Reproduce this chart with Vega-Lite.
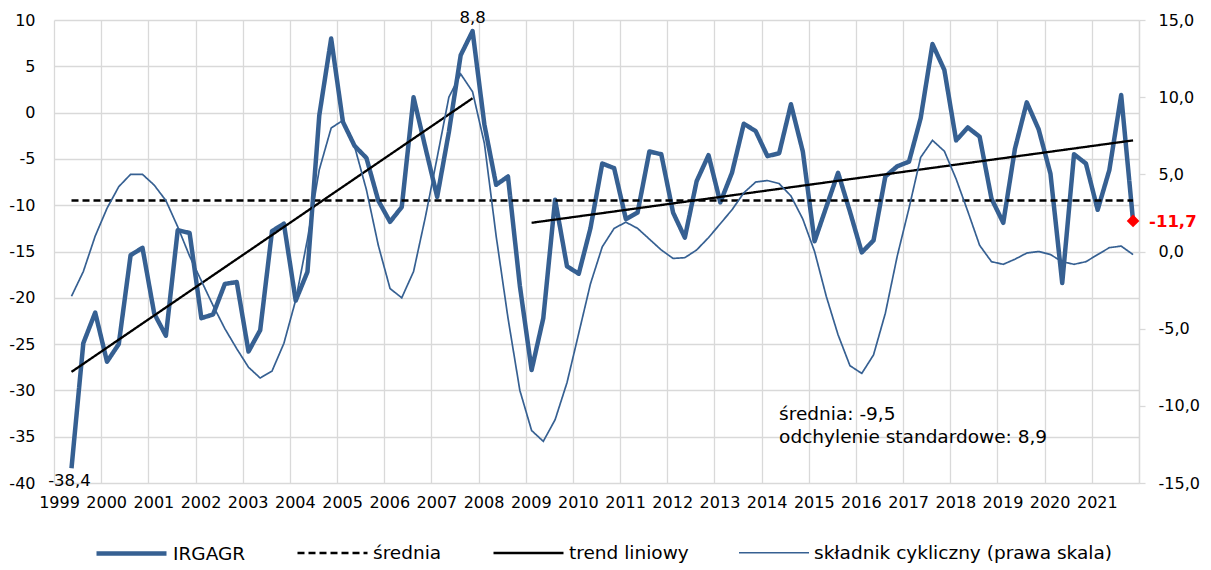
{
"$schema":"https://vega.github.io/schema/vega-lite/v6.json",
"width":1085,"height":463,
"autosize":{"type":"none"},
"padding":{"left":54,"top":20,"right":72,"bottom":87},
"background":"white",
"config":{"view":{"stroke":null},"font":"DejaVu Sans","axis":{"labelFont":"DejaVu Sans","labelColor":"#000000","labelFontSize":16,"gridColor":"#d9d9d9","gridWidth":1.3,"title":null},"text":{"font":"DejaVu Sans"}},
"datasets":{
"s":[
{"d":"1999-04-01","s":"IRGAGR","v":-38.4},{"d":"1999-07-01","s":"IRGAGR","v":-24.9},{"d":"1999-10-01","s":"IRGAGR","v":-21.6},
{"d":"2000-01-01","s":"IRGAGR","v":-26.9},{"d":"2000-04-01","s":"IRGAGR","v":-25.0},{"d":"2000-07-01","s":"IRGAGR","v":-15.4},{"d":"2000-10-01","s":"IRGAGR","v":-14.6},
{"d":"2001-01-01","s":"IRGAGR","v":-21.7},{"d":"2001-04-01","s":"IRGAGR","v":-24.1},{"d":"2001-07-01","s":"IRGAGR","v":-12.7},{"d":"2001-10-01","s":"IRGAGR","v":-13.0},
{"d":"2002-01-01","s":"IRGAGR","v":-22.2},{"d":"2002-04-01","s":"IRGAGR","v":-21.8},{"d":"2002-07-01","s":"IRGAGR","v":-18.5},{"d":"2002-10-01","s":"IRGAGR","v":-18.3},
{"d":"2003-01-01","s":"IRGAGR","v":-25.8},{"d":"2003-04-01","s":"IRGAGR","v":-23.5},{"d":"2003-07-01","s":"IRGAGR","v":-12.8},{"d":"2003-10-01","s":"IRGAGR","v":-12.0},
{"d":"2004-01-01","s":"IRGAGR","v":-20.3},{"d":"2004-04-01","s":"IRGAGR","v":-17.2},{"d":"2004-07-01","s":"IRGAGR","v":-0.3},{"d":"2004-10-01","s":"IRGAGR","v":8.0},
{"d":"2005-01-01","s":"IRGAGR","v":-1.0},{"d":"2005-04-01","s":"IRGAGR","v":-3.6},{"d":"2005-07-01","s":"IRGAGR","v":-4.9},{"d":"2005-10-01","s":"IRGAGR","v":-9.5},
{"d":"2006-01-01","s":"IRGAGR","v":-11.8},{"d":"2006-04-01","s":"IRGAGR","v":-10.2},{"d":"2006-07-01","s":"IRGAGR","v":1.65},{"d":"2006-10-01","s":"IRGAGR","v":-3.8},
{"d":"2007-01-01","s":"IRGAGR","v":-9.1},{"d":"2007-04-01","s":"IRGAGR","v":-2.1},{"d":"2007-07-01","s":"IRGAGR","v":6.2},{"d":"2007-10-01","s":"IRGAGR","v":8.8},
{"d":"2008-01-01","s":"IRGAGR","v":-1.3},{"d":"2008-04-01","s":"IRGAGR","v":-7.8},{"d":"2008-07-01","s":"IRGAGR","v":-6.9},{"d":"2008-10-01","s":"IRGAGR","v":-18.7},
{"d":"2009-01-01","s":"IRGAGR","v":-27.8},{"d":"2009-04-01","s":"IRGAGR","v":-22.2},{"d":"2009-07-01","s":"IRGAGR","v":-9.4},{"d":"2009-10-01","s":"IRGAGR","v":-16.6},
{"d":"2010-01-01","s":"IRGAGR","v":-17.4},{"d":"2010-04-01","s":"IRGAGR","v":-12.5},{"d":"2010-07-01","s":"IRGAGR","v":-5.5},{"d":"2010-10-01","s":"IRGAGR","v":-6.0},
{"d":"2011-01-01","s":"IRGAGR","v":-11.5},{"d":"2011-04-01","s":"IRGAGR","v":-10.8},{"d":"2011-07-01","s":"IRGAGR","v":-4.2},{"d":"2011-10-01","s":"IRGAGR","v":-4.5},
{"d":"2012-01-01","s":"IRGAGR","v":-10.8},{"d":"2012-04-01","s":"IRGAGR","v":-13.5},{"d":"2012-07-01","s":"IRGAGR","v":-7.4},{"d":"2012-10-01","s":"IRGAGR","v":-4.6},
{"d":"2013-01-01","s":"IRGAGR","v":-9.7},{"d":"2013-04-01","s":"IRGAGR","v":-6.5},{"d":"2013-07-01","s":"IRGAGR","v":-1.2},{"d":"2013-10-01","s":"IRGAGR","v":-2.0},
{"d":"2014-01-01","s":"IRGAGR","v":-4.7},{"d":"2014-04-01","s":"IRGAGR","v":-4.4},{"d":"2014-07-01","s":"IRGAGR","v":0.9},{"d":"2014-10-01","s":"IRGAGR","v":-4.2},
{"d":"2015-01-01","s":"IRGAGR","v":-13.9},{"d":"2015-04-01","s":"IRGAGR","v":-10.2},{"d":"2015-07-01","s":"IRGAGR","v":-6.5},{"d":"2015-10-01","s":"IRGAGR","v":-10.7},
{"d":"2016-01-01","s":"IRGAGR","v":-15.1},{"d":"2016-04-01","s":"IRGAGR","v":-13.8},{"d":"2016-07-01","s":"IRGAGR","v":-6.9},{"d":"2016-10-01","s":"IRGAGR","v":-5.8},
{"d":"2017-01-01","s":"IRGAGR","v":-5.3},{"d":"2017-04-01","s":"IRGAGR","v":-0.6},{"d":"2017-07-01","s":"IRGAGR","v":7.4},{"d":"2017-10-01","s":"IRGAGR","v":4.6},
{"d":"2018-01-01","s":"IRGAGR","v":-3.0},{"d":"2018-04-01","s":"IRGAGR","v":-1.6},{"d":"2018-07-01","s":"IRGAGR","v":-2.6},{"d":"2018-10-01","s":"IRGAGR","v":-9.3},
{"d":"2019-01-01","s":"IRGAGR","v":-11.9},{"d":"2019-04-01","s":"IRGAGR","v":-3.9},{"d":"2019-07-01","s":"IRGAGR","v":1.1},{"d":"2019-10-01","s":"IRGAGR","v":-1.8},
{"d":"2020-01-01","s":"IRGAGR","v":-6.6},{"d":"2020-04-01","s":"IRGAGR","v":-18.4},{"d":"2020-07-01","s":"IRGAGR","v":-4.5},{"d":"2020-10-01","s":"IRGAGR","v":-5.5},
{"d":"2021-01-01","s":"IRGAGR","v":-10.5},{"d":"2021-04-01","s":"IRGAGR","v":-6.2},{"d":"2021-07-01","s":"IRGAGR","v":1.9},{"d":"2021-10-01","s":"IRGAGR","v":-11.7},
{"d":"1999-04-01","s":"średnia","v":-9.5},{"d":"2021-10-01","s":"średnia","v":-9.5},
{"d":"1999-04-01","s":"trend liniowy","seg":"a","v":-28.0},{"d":"2007-10-01","s":"trend liniowy","seg":"a","v":1.55},
{"d":"2009-01-01","s":"trend liniowy","seg":"b","v":-11.9},{"d":"2021-10-01","s":"trend liniowy","seg":"b","v":-3.0},
{"d":"1999-04-01","s":"składnik cykliczny (prawa skala)","v":-2.9},{"d":"1999-07-01","s":"składnik cykliczny (prawa skala)","v":-1.3},{"d":"1999-10-01","s":"składnik cykliczny (prawa skala)","v":1.0},
{"d":"2000-01-01","s":"składnik cykliczny (prawa skala)","v":2.8},{"d":"2000-04-01","s":"składnik cykliczny (prawa skala)","v":4.2},{"d":"2000-07-01","s":"składnik cykliczny (prawa skala)","v":5.0},{"d":"2000-10-01","s":"składnik cykliczny (prawa skala)","v":5.0},
{"d":"2001-01-01","s":"składnik cykliczny (prawa skala)","v":4.3},{"d":"2001-04-01","s":"składnik cykliczny (prawa skala)","v":3.3},{"d":"2001-07-01","s":"składnik cykliczny (prawa skala)","v":1.6},{"d":"2001-10-01","s":"składnik cykliczny (prawa skala)","v":-0.3},
{"d":"2002-01-01","s":"składnik cykliczny (prawa skala)","v":-1.9},{"d":"2002-04-01","s":"składnik cykliczny (prawa skala)","v":-3.5},{"d":"2002-07-01","s":"składnik cykliczny (prawa skala)","v":-5.0},{"d":"2002-10-01","s":"składnik cykliczny (prawa skala)","v":-6.3},
{"d":"2003-01-01","s":"składnik cykliczny (prawa skala)","v":-7.5},{"d":"2003-04-01","s":"składnik cykliczny (prawa skala)","v":-8.2},{"d":"2003-07-01","s":"składnik cykliczny (prawa skala)","v":-7.75},{"d":"2003-10-01","s":"składnik cykliczny (prawa skala)","v":-5.95},
{"d":"2004-01-01","s":"składnik cykliczny (prawa skala)","v":-3.15},{"d":"2004-04-01","s":"składnik cykliczny (prawa skala)","v":0.8},{"d":"2004-07-01","s":"składnik cykliczny (prawa skala)","v":5.3},{"d":"2004-10-01","s":"składnik cykliczny (prawa skala)","v":8.0},
{"d":"2005-01-01","s":"składnik cykliczny (prawa skala)","v":8.5},{"d":"2005-04-01","s":"składnik cykliczny (prawa skala)","v":6.8},{"d":"2005-07-01","s":"składnik cykliczny (prawa skala)","v":4.0},{"d":"2005-10-01","s":"składnik cykliczny (prawa skala)","v":0.4},
{"d":"2006-01-01","s":"składnik cykliczny (prawa skala)","v":-2.4},{"d":"2006-04-01","s":"składnik cykliczny (prawa skala)","v":-3.0},{"d":"2006-07-01","s":"składnik cykliczny (prawa skala)","v":-1.3},{"d":"2006-10-01","s":"składnik cykliczny (prawa skala)","v":2.25},
{"d":"2007-01-01","s":"składnik cykliczny (prawa skala)","v":6.1},{"d":"2007-04-01","s":"składnik cykliczny (prawa skala)","v":10.0},{"d":"2007-07-01","s":"składnik cykliczny (prawa skala)","v":11.5},{"d":"2007-10-01","s":"składnik cykliczny (prawa skala)","v":10.35},
{"d":"2008-01-01","s":"składnik cykliczny (prawa skala)","v":7.0},{"d":"2008-04-01","s":"składnik cykliczny (prawa skala)","v":1.0},{"d":"2008-07-01","s":"składnik cykliczny (prawa skala)","v":-4.3},{"d":"2008-10-01","s":"składnik cykliczny (prawa skala)","v":-9.0},
{"d":"2009-01-01","s":"składnik cykliczny (prawa skala)","v":-11.6},{"d":"2009-04-01","s":"składnik cykliczny (prawa skala)","v":-12.3},{"d":"2009-07-01","s":"składnik cykliczny (prawa skala)","v":-10.9},{"d":"2009-10-01","s":"składnik cykliczny (prawa skala)","v":-8.5},
{"d":"2010-01-01","s":"składnik cykliczny (prawa skala)","v":-5.3},{"d":"2010-04-01","s":"składnik cykliczny (prawa skala)","v":-2.1},{"d":"2010-07-01","s":"składnik cykliczny (prawa skala)","v":0.3},{"d":"2010-10-01","s":"składnik cykliczny (prawa skala)","v":1.5},
{"d":"2011-01-01","s":"składnik cykliczny (prawa skala)","v":1.9},{"d":"2011-04-01","s":"składnik cykliczny (prawa skala)","v":1.5},{"d":"2011-07-01","s":"składnik cykliczny (prawa skala)","v":0.8},{"d":"2011-10-01","s":"składnik cykliczny (prawa skala)","v":0.1},
{"d":"2012-01-01","s":"składnik cykliczny (prawa skala)","v":-0.45},{"d":"2012-04-01","s":"składnik cykliczny (prawa skala)","v":-0.4},{"d":"2012-07-01","s":"składnik cykliczny (prawa skala)","v":0.1},{"d":"2012-10-01","s":"składnik cykliczny (prawa skala)","v":0.9},
{"d":"2013-01-01","s":"składnik cykliczny (prawa skala)","v":1.8},{"d":"2013-04-01","s":"składnik cykliczny (prawa skala)","v":2.7},{"d":"2013-07-01","s":"składnik cykliczny (prawa skala)","v":3.8},{"d":"2013-10-01","s":"składnik cykliczny (prawa skala)","v":4.5},
{"d":"2014-01-01","s":"składnik cykliczny (prawa skala)","v":4.6},{"d":"2014-04-01","s":"składnik cykliczny (prawa skala)","v":4.4},{"d":"2014-07-01","s":"składnik cykliczny (prawa skala)","v":3.6},{"d":"2014-10-01","s":"składnik cykliczny (prawa skala)","v":2.1},
{"d":"2015-01-01","s":"składnik cykliczny (prawa skala)","v":0.0},{"d":"2015-04-01","s":"składnik cykliczny (prawa skala)","v":-2.9},{"d":"2015-07-01","s":"składnik cykliczny (prawa skala)","v":-5.4},{"d":"2015-10-01","s":"składnik cykliczny (prawa skala)","v":-7.4},
{"d":"2016-01-01","s":"składnik cykliczny (prawa skala)","v":-7.9},{"d":"2016-04-01","s":"składnik cykliczny (prawa skala)","v":-6.7},{"d":"2016-07-01","s":"składnik cykliczny (prawa skala)","v":-4.0},{"d":"2016-10-01","s":"składnik cykliczny (prawa skala)","v":-0.3},
{"d":"2017-01-01","s":"składnik cykliczny (prawa skala)","v":2.8},{"d":"2017-04-01","s":"składnik cykliczny (prawa skala)","v":6.1},{"d":"2017-07-01","s":"składnik cykliczny (prawa skala)","v":7.2},{"d":"2017-10-01","s":"składnik cykliczny (prawa skala)","v":6.5},
{"d":"2018-01-01","s":"składnik cykliczny (prawa skala)","v":4.7},{"d":"2018-04-01","s":"składnik cykliczny (prawa skala)","v":2.6},{"d":"2018-07-01","s":"składnik cykliczny (prawa skala)","v":0.4},{"d":"2018-10-01","s":"składnik cykliczny (prawa skala)","v":-0.66},
{"d":"2019-01-01","s":"składnik cykliczny (prawa skala)","v":-0.83},{"d":"2019-04-01","s":"składnik cykliczny (prawa skala)","v":-0.5},{"d":"2019-07-01","s":"składnik cykliczny (prawa skala)","v":-0.1},{"d":"2019-10-01","s":"składnik cykliczny (prawa skala)","v":0.0},
{"d":"2020-01-01","s":"składnik cykliczny (prawa skala)","v":-0.2},{"d":"2020-04-01","s":"składnik cykliczny (prawa skala)","v":-0.66},{"d":"2020-07-01","s":"składnik cykliczny (prawa skala)","v":-0.83},{"d":"2020-10-01","s":"składnik cykliczny (prawa skala)","v":-0.66},
{"d":"2021-01-01","s":"składnik cykliczny (prawa skala)","v":-0.2},{"d":"2021-04-01","s":"składnik cykliczny (prawa skala)","v":0.25},{"d":"2021-07-01","s":"składnik cykliczny (prawa skala)","v":0.35},{"d":"2021-10-01","s":"składnik cykliczny (prawa skala)","v":-0.2}
]
},
"encoding":{"x":{"field":"d","type":"temporal","timeUnit":"yearquarter","bandPosition":0.5,"title":null,
 "scale":{"domain":[{"year":1999,"month":1,"date":1},{"year":2022,"month":1,"date":1}],"nice":false},
 "axis":{"values":[{"year":1999,"month":1,"date":1},{"year":2000,"month":1,"date":1},{"year":2001,"month":1,"date":1},{"year":2002,"month":1,"date":1},{"year":2003,"month":1,"date":1},{"year":2004,"month":1,"date":1},{"year":2005,"month":1,"date":1},{"year":2006,"month":1,"date":1},{"year":2007,"month":1,"date":1},{"year":2008,"month":1,"date":1},{"year":2009,"month":1,"date":1},{"year":2010,"month":1,"date":1},{"year":2011,"month":1,"date":1},{"year":2012,"month":1,"date":1},{"year":2013,"month":1,"date":1},{"year":2014,"month":1,"date":1},{"year":2015,"month":1,"date":1},{"year":2016,"month":1,"date":1},{"year":2017,"month":1,"date":1},{"year":2018,"month":1,"date":1},{"year":2019,"month":1,"date":1},{"year":2020,"month":1,"date":1},{"year":2021,"month":1,"date":1},{"year":2022,"month":1,"date":1}],
  "labelExpr":"year(datum.value) > 2021 ? '' : timeFormat(datum.value, '%Y')","grid":true,"ticks":false,"domain":false,"labelOffset":5,"labelPadding":11,"labelAngle":0,"labelFlush":false,"labelOverlap":false,"labelFontSize":16}}},
"layer":[
 {"encoding":{"y":{"field":"v","type":"quantitative","title":null,"scale":{"domain":[-40,10],"nice":false,"zero":false},
   "axis":{"orient":"left","values":[-40,-35,-30,-25,-20,-15,-10,-5,0,5,10],"labelExpr":"'' + datum.value","ticks":false,"domain":false,"labelPadding":19,"grid":true}}},
  "layer":[
   {"data":{"name":"s"},"transform":[{"filter":"datum.s === 'IRGAGR'"}],
    "mark":{"type":"line","strokeJoin":"round","strokeCap":"butt"},
    "encoding":{
     "color":{"field":"s","type":"nominal","scale":{"domain":["IRGAGR","średnia","trend liniowy","składnik cykliczny (prawa skala)"],"range":["#366092","#000000","#000000","#366092"]},
      "legend":{"orient":"none","legendX":40,"legendY":496,"direction":"horizontal","title":null,"symbolType":"stroke","symbolSize":4900,"labelFontSize":18.5,"labelFont":"DejaVu Sans","labelColor":"#000000","columnPadding":46,"labelOffset":4,"labelLimit":0}},
     "strokeDash":{"field":"s","type":"nominal","scale":{"domain":["IRGAGR","średnia","trend liniowy","składnik cykliczny (prawa skala)"],"range":[[1,0],[7,4],[1,0],[1,0]]},
      "legend":{"orient":"none","legendX":40,"legendY":496,"direction":"horizontal","title":null,"symbolType":"stroke","symbolSize":4900,"labelFontSize":18.5,"labelFont":"DejaVu Sans","labelColor":"#000000","columnPadding":46,"labelOffset":4,"labelLimit":0}},
     "strokeWidth":{"field":"s","type":"nominal","scale":{"type":"ordinal","domain":["IRGAGR","średnia","trend liniowy","składnik cykliczny (prawa skala)"],"range":[4.5,2.5,2.3,1.7]},
      "legend":{"orient":"none","legendX":40,"legendY":496,"direction":"horizontal","title":null,"symbolType":"stroke","symbolSize":4900,"labelFontSize":18.5,"labelFont":"DejaVu Sans","labelColor":"#000000","columnPadding":46,"labelOffset":4,"labelLimit":0}}
    }},
   {"data":{"name":"s"},"transform":[{"filter":"datum.s === 'średnia' || datum.s === 'trend liniowy'"}],
    "mark":{"type":"line"},
    "encoding":{
     "detail":{"field":"seg"},
     "color":{"field":"s","type":"nominal","scale":{"domain":["IRGAGR","średnia","trend liniowy","składnik cykliczny (prawa skala)"],"range":["#366092","#000000","#000000","#366092"]}},
     "strokeDash":{"field":"s","type":"nominal","scale":{"domain":["IRGAGR","średnia","trend liniowy","składnik cykliczny (prawa skala)"],"range":[[1,0],[7,4],[1,0],[1,0]]}},
     "strokeWidth":{"field":"s","type":"nominal","scale":{"type":"ordinal","domain":["IRGAGR","średnia","trend liniowy","składnik cykliczny (prawa skala)"],"range":[4.5,2.5,2.3,1.7]}}
    }},
   {"data":{"values":[{"d":"2021-10-01","v":-11.7}]},"mark":{"type":"point","shape":"diamond","filled":true,"color":"#ff0000","size":160,"opacity":1}},
   {"data":{"values":[{"d":"2021-10-01","v":-11.7,"t":"-11,7"}]},"mark":{"type":"text","align":"left","baseline":"alphabetic","dx":16,"dy":6,"fontSize":16.5,"fontWeight":"bold","color":"#ff0000"},"encoding":{"text":{"field":"t"}}},
   {"data":{"values":[{"d":"2007-10-01","v":8.8,"t":"8,8"}]},"mark":{"type":"text","align":"center","baseline":"alphabetic","dy":-8,"fontSize":16.5,"color":"#000000"},"encoding":{"text":{"field":"t"}}},
   {"data":{"values":[{"d":"1999-04-01","v":-38.4,"t":"-38,4"}]},"mark":{"type":"text","align":"center","baseline":"alphabetic","dx":-2,"dy":18,"fontSize":16.5,"color":"#000000"},"encoding":{"text":{"field":"t"}}},
   {"data":{"values":[{"d":"2014-04-01","v":-33.2,"t":"średnia: -9,5"},{"d":"2014-04-01","v":-35.7,"t":"odchylenie standardowe: 8,9"}]},"mark":{"type":"text","align":"left","baseline":"alphabetic","dx":0,"fontSize":18.5,"color":"#000000"},"encoding":{"text":{"field":"t"}}}
  ]},
 {"data":{"name":"s"},"transform":[{"filter":"datum.s === 'składnik cykliczny (prawa skala)'"}],
  "mark":{"type":"line"},
  "encoding":{
   "y":{"field":"v","type":"quantitative","title":null,"scale":{"domain":[-15,15],"nice":false,"zero":false},
    "axis":{"orient":"right","values":[-15,-10,-5,0,5,10,15],"labelExpr":"datum.value + ',0'","grid":false,"ticks":true,"tickSize":6,"tickColor":"#d9d9d9","tickWidth":1.3,"domain":true,"domainColor":"#d9d9d9","domainWidth":1.3,"labelPadding":13}},
   "color":{"field":"s","type":"nominal","scale":{"domain":["IRGAGR","średnia","trend liniowy","składnik cykliczny (prawa skala)"],"range":["#366092","#000000","#000000","#366092"]}},
   "strokeDash":{"field":"s","type":"nominal","scale":{"domain":["IRGAGR","średnia","trend liniowy","składnik cykliczny (prawa skala)"],"range":[[1,0],[7,4],[1,0],[1,0]]}},
   "strokeWidth":{"field":"s","type":"nominal","scale":{"type":"ordinal","domain":["IRGAGR","średnia","trend liniowy","składnik cykliczny (prawa skala)"],"range":[4.5,2.5,2.3,1.7]}}
  }}
],
"resolve":{"scale":{"y":"independent"}}
}
